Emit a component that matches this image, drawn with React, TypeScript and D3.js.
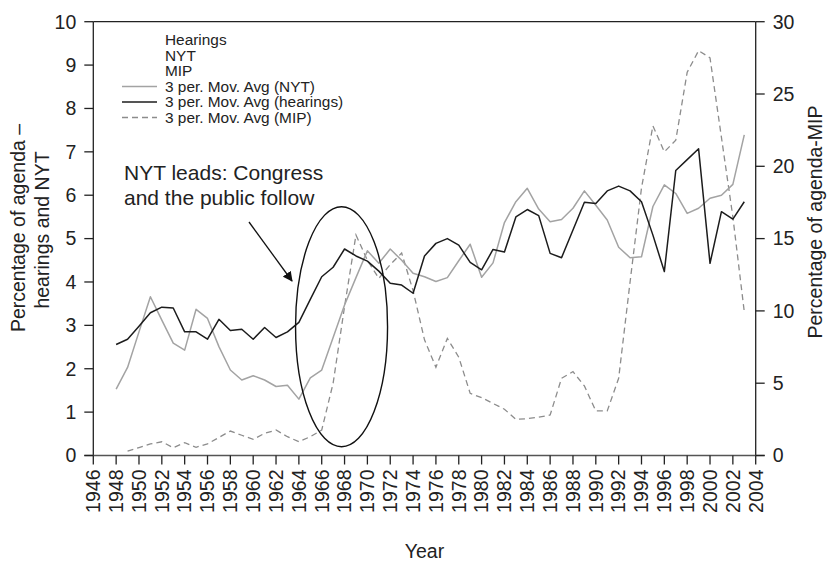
import React from "react";
import * as d3 from "d3";

// Years covered by the three-period moving averages
const years = [
  1948, 1949, 1950, 1951, 1952, 1953, 1954, 1955, 1956, 1957,
  1958, 1959, 1960, 1961, 1962, 1963, 1964, 1965, 1966, 1967,
  1968, 1969, 1970, 1971, 1972, 1973, 1974, 1975, 1976, 1977,
  1978, 1979, 1980, 1981, 1982, 1983, 1984, 1985, 1986, 1987,
  1988, 1989, 1990, 1991, 1992, 1993, 1994, 1995, 1996, 1997,
  1998, 1999, 2000, 2001, 2002, 2003,
];

// 3 per. Mov. Avg (hearings), % of agenda
const hearings = [
  2.56, 2.68, 2.98, 3.29, 3.42, 3.4, 2.85, 2.85, 2.68, 3.14,
  2.88, 2.91, 2.68, 2.95, 2.72, 2.85, 3.07, 3.6, 4.12, 4.34,
  4.76, 4.6, 4.48, 4.25, 3.97, 3.93, 3.74, 4.6, 4.89, 5.0,
  4.85, 4.45, 4.28, 4.75, 4.69, 5.5, 5.67, 5.53, 4.66, 4.56,
  5.2, 5.84, 5.81, 6.1, 6.21, 6.1, 5.85, 5.08, 4.24, 6.57,
  6.82, 7.07, 4.43, 5.62, 5.45, 5.85,
];

// 3 per. Mov. Avg (NYT), % of agenda
const nyt = [
  1.53, 2.03, 2.85, 3.66, 3.12, 2.59, 2.43, 3.37, 3.16, 2.51,
  1.97, 1.74, 1.84, 1.74, 1.59, 1.62, 1.3, 1.79, 1.97, 2.72,
  3.47, 4.1, 4.72, 4.43, 4.76, 4.5, 4.2, 4.12, 4.01, 4.1,
  4.49, 4.87, 4.11, 4.44, 5.37, 5.85, 6.16, 5.68, 5.39, 5.44,
  5.7, 6.1, 5.77, 5.43, 4.8, 4.56, 4.58, 5.74, 6.24, 6.04,
  5.58, 5.7, 5.93, 6.0, 6.25, 7.39,
];

// Years and values of 3 per. Mov. Avg (MIP), % of agenda (right axis)
const mipYears = [
  1949, 1950, 1951, 1952, 1953, 1954, 1955, 1956, 1957, 1958,
  1959, 1960, 1961, 1962, 1963, 1964, 1965, 1966, 1967, 1968,
  1969, 1970, 1971, 1972, 1973, 1974, 1975, 1976, 1977, 1978,
  1979, 1980, 1981, 1982, 1983, 1984, 1985, 1986, 1987, 1988,
  1989, 1990, 1991, 1992, 1993, 1994, 1995, 1996, 1997, 1998,
  1999, 2000, 2001, 2002, 2003,
];
const mip = [
  0.3, 0.55, 0.8, 0.95, 0.54, 0.89, 0.57, 0.8, 1.25, 1.69,
  1.4, 1.12, 1.53, 1.76, 1.3, 0.95, 1.3, 1.76, 5.0, 10.3,
  15.25, 13.5, 12.25, 13.2, 14.0, 11.4, 8.0, 6.1, 8.1, 6.8,
  4.3, 4.0, 3.6, 3.2, 2.5, 2.55, 2.65, 2.8, 5.34, 5.8,
  4.81, 3.08, 3.08, 5.34, 12.0, 18.5, 22.8, 21.0, 21.8, 26.5,
  28.0, 27.5, 22.0, 16.5, 9.94,
];

const xTicks = [
  1946, 1948, 1950, 1952, 1954, 1956, 1958, 1960, 1962, 1964,
  1966, 1968, 1970, 1972, 1974, 1976, 1978, 1980, 1982, 1984,
  1986, 1988, 1990, 1992, 1994, 1996, 1998, 2000, 2002, 2004,
];
const leftTicks = [0, 1, 2, 3, 4, 5, 6, 7, 8, 9, 10];
const rightTicks = [0, 5, 10, 15, 20, 25, 30];

const legendPlain = ["Hearings", "NYT", "MIP"];
const legendLines = [
  { label: "3 per. Mov. Avg (NYT)", key: "nyt" },
  { label: "3 per. Mov. Avg (hearings)", key: "hearings" },
  { label: "3 per. Mov. Avg (MIP)", key: "mip" },
];

const FONT = "'Liberation Sans', Arial, Helvetica, sans-serif";
const STYLE: Record<string, { stroke: string; width: number; dash?: string }> = {
  nyt: { stroke: "#a3a3a3", width: 1.5 },
  hearings: { stroke: "#1c1c1c", width: 1.5 },
  mip: { stroke: "#8c8c8c", width: 1.3, dash: "6,4" },
};

export default function App() {
  const W = 828;
  const H = 563;
  const left = 93.3;
  const right = 755.7;
  const top = 21.7;
  const bottom = 455.5;

  const x = d3.scaleLinear().domain([1946, 2004]).range([left, right]);
  const yL = d3.scaleLinear().domain([0, 10]).range([bottom, top]);
  const yR = d3.scaleLinear().domain([0, 30]).range([bottom, top]);

  const lineL = d3
    .line<[number, number]>()
    .x((d) => x(d[0]))
    .y((d) => yL(d[1]));
  const lineR = d3
    .line<[number, number]>()
    .x((d) => x(d[0]))
    .y((d) => yR(d[1]));

  const nytPath = lineL(years.map((yr, i) => [yr, nyt[i]] as [number, number])) || "";
  const hearPath = lineL(years.map((yr, i) => [yr, hearings[i]] as [number, number])) || "";
  const mipPath = lineR(mipYears.map((yr, i) => [yr, mip[i]] as [number, number])) || "";

  const tickLen = 9;
  const fs = 19.5;
  const legendX = 165;
  const legendY0 = 45;
  const legendStep = 15.5;
  const legendFs = 15.4;

  return (
    <svg
      width={W}
      height={H}
      viewBox={`0 0 ${W} ${H}`}
      style={{ position: "absolute", left: 0, top: 0, background: "#fff" }}
      fontFamily={FONT}
    >
      <defs>
        <marker
          id="arrowhead"
          viewBox="0 0 10 10"
          refX="9"
          refY="5"
          markerWidth="10"
          markerHeight="10"
          markerUnits="userSpaceOnUse"
          orient="auto"
        >
          <path d="M0,0 L10,5 L0,10 z" fill="#111" />
        </marker>
      </defs>

      {/* plot frame */}
      <line x1={left} y1={top} x2={right} y2={top} stroke="#222" strokeWidth={1.3} />
      <line x1={left} y1={top} x2={left} y2={bottom} stroke="#222" strokeWidth={1.3} />
      <line x1={right} y1={top} x2={right} y2={bottom} stroke="#222" strokeWidth={1.3} />
      <line x1={left - tickLen} y1={bottom} x2={right + tickLen} y2={bottom} stroke="#555" strokeWidth={1.6} />

      {/* left axis */}
      {leftTicks.map((t) => (
        <g key={`l${t}`}>
          <line x1={left - tickLen} x2={left} y1={yL(t)} y2={yL(t)} stroke="#222" strokeWidth={1.3} />
          <text x={left - tickLen - 8} y={yL(t)} dy="0.35em" textAnchor="end" fontSize={fs} fill="#222">
            {t}
          </text>
        </g>
      ))}

      {/* right axis */}
      {rightTicks.map((t) => (
        <g key={`r${t}`}>
          <line x1={right} x2={right + tickLen} y1={yR(t)} y2={yR(t)} stroke="#222" strokeWidth={1.3} />
          <text x={right + tickLen + 8} y={yR(t)} dy="0.35em" textAnchor="start" fontSize={fs} fill="#222">
            {t}
          </text>
        </g>
      ))}

      {/* x axis */}
      {xTicks.map((t) => (
        <g key={`x${t}`}>
          <line x1={x(t)} x2={x(t)} y1={bottom} y2={bottom + tickLen} stroke="#222" strokeWidth={1.3} />
          <text
            transform={`translate(${x(t)},${bottom + tickLen + 5}) rotate(-90)`}
            dy="0.35em"
            textAnchor="end"
            fontSize={fs}
            fill="#222"
          >
            {t}
          </text>
        </g>
      ))}

      {/* axis titles */}
      <text transform="translate(25,228) rotate(-90)" textAnchor="middle" fontSize={fs} fill="#222">
        Percentage of agenda –
      </text>
      <text transform="translate(49,230) rotate(-90)" textAnchor="middle" fontSize={fs} fill="#222">
        hearings and NYT
      </text>
      <text transform="translate(822,222) rotate(-90)" textAnchor="middle" fontSize={fs} fill="#222">
        Percentage of agenda-MIP
      </text>
      <text x={(left + right) / 2} y={558} textAnchor="middle" fontSize={fs} fill="#222">
        Year
      </text>

      {/* series */}
      <path d={mipPath} fill="none" stroke={STYLE.mip.stroke} strokeWidth={STYLE.mip.width} strokeDasharray={STYLE.mip.dash} />
      <path d={nytPath} fill="none" stroke={STYLE.nyt.stroke} strokeWidth={STYLE.nyt.width} strokeLinejoin="round" />
      <path d={hearPath} fill="none" stroke={STYLE.hearings.stroke} strokeWidth={STYLE.hearings.width} strokeLinejoin="round" />

      {/* legend */}
      {legendPlain.map((label, i) => (
        <text key={label} x={legendX} y={legendY0 + i * legendStep} fontSize={legendFs} fill="#222">
          {label}
        </text>
      ))}
      {legendLines.map((item, i) => {
        const yy = legendY0 + (i + 3) * legendStep;
        const s = STYLE[item.key];
        return (
          <g key={item.label}>
            <line
              x1={122}
              x2={157}
              y1={yy - 5}
              y2={yy - 5}
              stroke={s.stroke}
              strokeWidth={s.width}
              strokeDasharray={s.dash}
            />
            <text x={legendX} y={yy} fontSize={legendFs} fill="#222">
              {item.label}
            </text>
          </g>
        );
      })}

      {/* annotation */}
      <text x={124} y={180} fontSize={21} fill="#222">
        NYT leads: Congress
      </text>
      <text x={124} y={205} fontSize={21} fill="#222">
        and the public follow
      </text>
      <line x1={249} y1={222} x2={292} y2={281} stroke="#111" strokeWidth={1.3} markerEnd="url(#arrowhead)" />
      <ellipse cx={x(1968) - 3} cy={326.7} rx={46} ry={120} fill="none" stroke="#111" strokeWidth={1.4} />
    </svg>
  );
}
